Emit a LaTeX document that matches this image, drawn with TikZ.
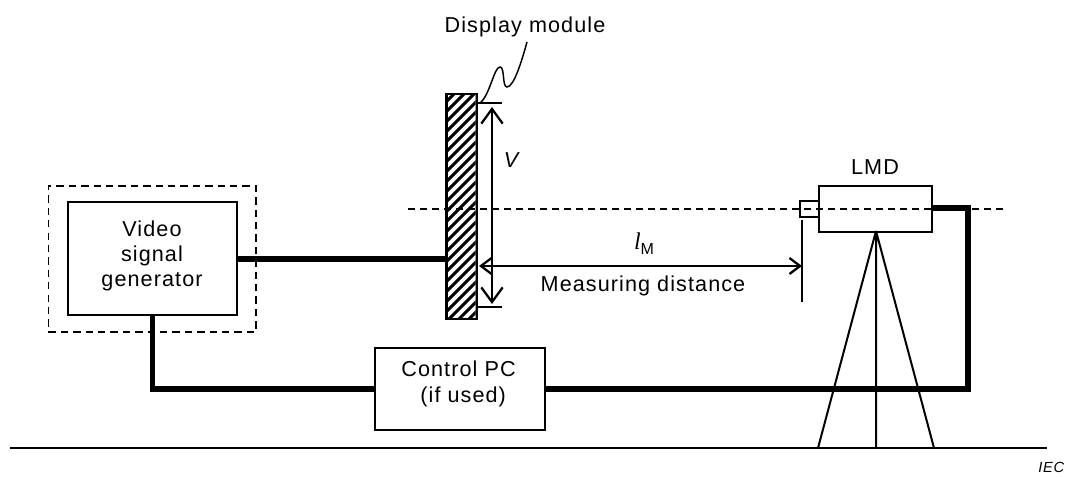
\documentclass[tikz,border=0pt]{standalone}
\usepackage{fontspec}
\setmainfont{Liberation Sans}[LetterSpace=5]
\newfontfamily\lserif{Liberation Serif}
\usetikzlibrary{arrows.meta}
\tikzset{
  x=0.75pt,y=-0.75pt,
  thin line/.style={line width=1.5pt,black},
  thick line/.style={line width=4.2pt,black,line join=miter},
  box/.style={draw,line width=1.8pt},
  lab/.style={font=\fontsize{16.2}{19}\selectfont,align=center,inner sep=0pt},
  bigarrow/.style={line width=1.7pt,{Straight Barb[length=11pt,width=16pt,line width=1.7pt]}-{Straight Barb[length=11pt,width=16pt,line width=1.7pt]}},
  smallarrow/.style={line width=1.7pt,{Straight Barb[length=8pt,width=12pt,line width=1.7pt]}-{Straight Barb[length=8pt,width=12pt,line width=1.7pt]}},
  axis line/.style={line width=1.1pt,dash pattern=on 5pt off 4pt},
}
\begin{document}
\begin{tikzpicture}
\useasboundingbox (0,0) rectangle (1070,477);
% hatched display
\fill[black] (445,93) rectangle (478,320);
\begin{scope}
\clip (447.5,95.5) rectangle (475.5,317.5);
\fill[white] (447.5,95.5) rectangle (475.5,317.5);
\foreach \k in {0,...,32} {
  \draw[line width=2.3pt,black] (440,{108+\k*10}) -- (485,{108+\k*10-45});
}
\end{scope}
\coordinate (dtr) at (478,103);
\coordinate (dbr) at (478,307);
\coordinate (tt) at (502,103);
\coordinate (tb) at (502,307);
\draw[thin line] (dtr) -- (tt);
\draw[thin line] (dbr) -- (tb);
\coordinate (va) at (492,107);
\coordinate (vb) at (492,304);
\draw[bigarrow] (va) -- (vb);
\coordinate (ha) at (479,266);
\coordinate (hb) at (802,266);
\draw[smallarrow] (ha) -- (hb);
\coordinate (mt) at (802,220);
\coordinate (mb) at (802,302);
\draw[thin line] (mt) -- (mb);
% axis
\coordinate (axl) at (408,209);
\coordinate (axr) at (1005,209);
% LMD
\node[box,anchor=north west,minimum width=84.75pt,minimum height=34.5pt,inner sep=0pt] (lmd) at (818,185) {};
\node[box,anchor=north west,minimum width=14.25pt,minimum height=12pt,inner sep=0pt] (lens) at (799,200) {};
\draw[axis line] (axl) -- (axr);
\node[lab] (lmdt) at (875,167) {LMD};
% tripod
\coordinate (apex) at (876,231);
\coordinate (g1) at (818,448);
\coordinate (g2) at (876,448);
\coordinate (g3) at (934,448);
\draw[thin line] (apex) -- (g1) (apex) -- (g2) (apex) -- (g3);
\coordinate (gl) at (10,448);
\coordinate (gr) at (1047,448);
\draw[thin line] (gl) -- (gr);
% boxes
\node[draw,line width=1.3pt,dash pattern=on 5.5pt off 3.8pt,anchor=north west,minimum width=155.6pt,minimum height=109.5pt,inner sep=0pt] (dash) at (47.5,185) {};
\node[box,anchor=north west,minimum width=126.75pt,minimum height=84.75pt,inner sep=0pt] (vid) at (67,201) {};
\node[lab] (vidt) at (152,256) {Video\\signal\\generator};
\node[box,anchor=north west,minimum width=127.5pt,minimum height=61.5pt,inner sep=0pt] (pc) at (374,347) {};
\node[lab] (pct) at (458.5,384) {Control PC\\ \hspace{7pt}(if used)};
% thick wires
\coordinate (vidr) at (236,259);
\coordinate (dl) at (445,259);
\draw[thick line] (vidr) -- (dl);
\coordinate (vidb) at (152.5,314);
\draw[thick line] (vidb) |- (pc.west);
\coordinate (lr) at (931,208);
\draw[thick line] (lr) -- (968,208) |- (pc.east);
% curve
\coordinate (cs) at (480,103);
\coordinate (ce) at (527,42);
\draw[line width=1.1pt] (cs) .. controls (490,95) and (494,67) .. (500,67) .. controls (505,67) and (502,87) .. (507,87) .. controls (514,87) and (522,60) .. (ce);
% labels
\node[lab] (dm) at (525,27) {Display module};
\node[lab,font=\fontsize{16.2}{19}\selectfont\itshape] (v) at (511,160) {V};
\node[lab,anchor=base] (lm) at (644,250) {{\lserif\itshape\fontsize{18}{19}\selectfont l}\raisebox{-3.5pt}{\fontsize{12}{13}\selectfont M}};
\node[lab] (md) at (643,286) {Measuring distance};
\node[lab,font=\fontsize{11}{11}\selectfont\itshape,anchor=base west] (iec) at (1038,472.5) {IEC};
\end{tikzpicture}
\end{document}
